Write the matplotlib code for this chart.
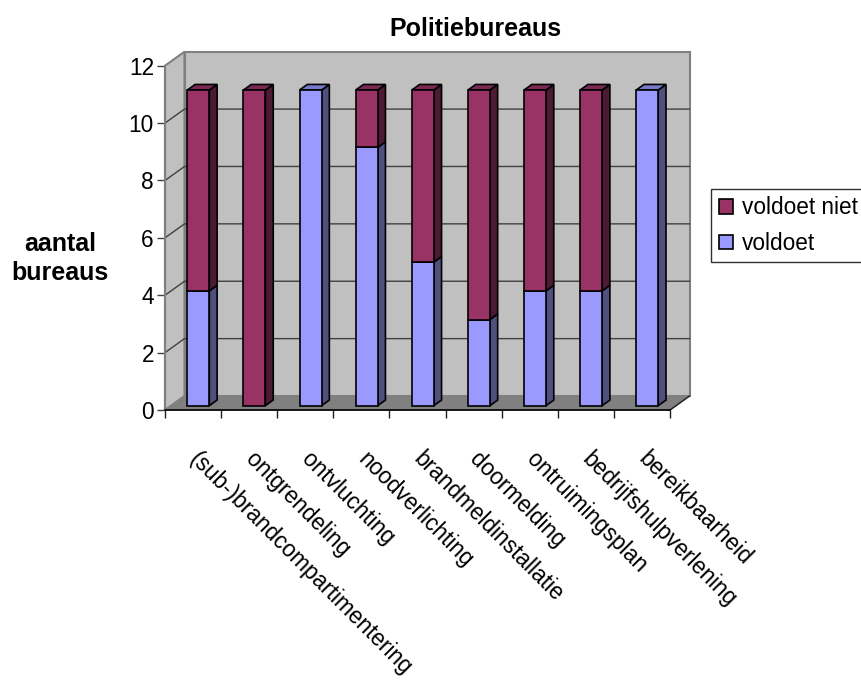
import matplotlib
matplotlib.use('Agg')
import matplotlib.pyplot as plt
from matplotlib.patches import Patch

plt.rcParams['font.family'] = ['Liberation Sans', 'DejaVu Sans']

categories = ['(sub-)brandcompartimentering', 'ontgrendeling', 'ontvluchting', 'noodverlichting',
              'brandmeldinstallatie', 'doormelding', 'ontruimingsplan', 'bedrijfshulpverlening',
              'bereikbaarheid']
voldoet = [4, 0, 11, 9, 5, 3, 4, 4, 11]
voldoet_niet = [7, 11, 0, 2, 6, 8, 7, 7, 0]
y_ticks = [0, 2, 4, 6, 8, 10, 12]

BLUE = ('#9999ff', '#50507f', '#7a7acc')
MAROON = ('#993366', '#4d1a33', '#7a2952')
W, H = 862, 687

# depth of the fake 3d box, in data units
DX, DY = 19.5 / 56.1, 14 / 28.7
BAR_START = 0.31
BAR_DEPTH = 0.40
BAR_LEFT = 0.29
BAR_WIDTH = 0.392


def walls(ax):
    n = len(categories)
    ax.fill([0, DX, DX, 0], [0, DY, 12 + DY, 12], fc='#c0c0c0', ec='#808080', lw=1.5, clip_on=False, zorder=1)
    ax.fill([DX, n + DX, n + DX, DX], [DY, DY, 12 + DY, 12 + DY], fc='#c0c0c0', ec='#808080', lw=1.5,
            clip_on=False, zorder=1)
    ax.fill([0, n, n + DX, DX], [0, 0, DY, DY], fc='#808080', ec='#808080', lw=1, clip_on=False, zorder=1)
    ax.plot([n, n + DX], [0, DY], color='#202020', lw=1, clip_on=False, zorder=2)
    for t in y_ticks[1:-1]:
        ax.plot([0, DX, n + DX], [t, t + DY, t + DY], color='#404040', lw=1, clip_on=False, zorder=2)


def draw_segment(ax, x, bottom, height, colors, top, z):
    front, side, lid = colors
    x0 = x + DX * BAR_START
    y0 = bottom + DY * BAR_START
    x1 = x0 + BAR_WIDTH
    y1 = y0 + height
    ddx, ddy = DX * BAR_DEPTH, DY * BAR_DEPTH
    ax.fill([x1, x1 + ddx, x1 + ddx, x1], [y0, y0 + ddy, y1 + ddy, y1], fc=side, ec='black', lw=1.2,
            clip_on=False, zorder=z)
    if top:
        ax.fill([x0, x1, x1 + ddx, x0 + ddx], [y1, y1, y1 + ddy, y1 + ddy], fc=lid, ec='black', lw=1.2,
                clip_on=False, zorder=z)
    ax.bar(x0, height, BAR_WIDTH, bottom=y0, align='edge', color=front, edgecolor='black', lw=1.2,
           clip_on=False, zorder=z + 0.5)


fig = plt.figure(figsize=(W / 100, H / 100), dpi=100, facecolor='white')
ax = fig.add_axes([165 / W, 1 - 410 / H, 505 / W, 344.3 / H])
ax.patch.set_visible(False)
ax.set_xlim(0, len(categories))
ax.set_ylim(0, 12)

walls(ax)
for i in range(len(categories)):
    z = 3 + i
    if voldoet[i] > 0:
        draw_segment(ax, i + BAR_LEFT, 0, voldoet[i], BLUE, voldoet_niet[i] == 0, z)
    if voldoet_niet[i] > 0:
        draw_segment(ax, i + BAR_LEFT, voldoet[i], voldoet_niet[i], MAROON, True, z + 0.6)

for s in ['top', 'right']:
    ax.spines[s].set_visible(False)
ax.spines['left'].set_color('#808080')
ax.spines['left'].set_linewidth(1.5)
ax.spines['left'].set_zorder(2)
ax.spines['bottom'].set_color('black')
ax.spines['bottom'].set_linewidth(1.2)

ax.set_yticks(y_ticks)
ax.tick_params(axis='y', length=6, width=1, color='#404040', labelsize=16.3, pad=2)
ax.set_xticks(range(len(categories) + 1))
ax.set_xticklabels([])
ax.tick_params(axis='x', which='major', length=6, width=1, color='#202020')
ax.set_xticks([i + 0.5 for i in range(len(categories))], minor=True)
ax.set_xticklabels(categories, minor=True, rotation=-45, ha='left', va='center',
                   rotation_mode='anchor', fontsize=16.3)
ax.tick_params(axis='x', which='minor', length=0, pad=33)

ax.set_ylabel('aantal\nbureaus', rotation=0, fontsize=18, fontweight='bold', ha='center', va='center',
              linespacing=1.3)
ax.yaxis.set_label_coords(-0.208, 0.44)
ax.set_title('Politiebureaus', fontsize=18, fontweight='bold', x=(475 - 165) / 505, y=(410 - 36) / 344.3, pad=0,
             va='baseline')

handles = [Patch(fc=MAROON[0], ec='black', lw=1.2, label='voldoet niet'),
           Patch(fc=BLUE[0], ec='black', lw=1.2, label='voldoet')]
leg = fig.legend(handles=handles, loc='upper left', bbox_to_anchor=(711.5 / W, 1 - 189 / H), fontsize=16.3,
                 frameon=True, fancybox=False, framealpha=1, edgecolor='#303030', borderaxespad=0,
                 borderpad=0.33, handlelength=0.62, handleheight=0.62, handletextpad=0.4, labelspacing=0.55)
leg.get_frame().set_linewidth(1)

fig.savefig('out.png', dpi=100)
